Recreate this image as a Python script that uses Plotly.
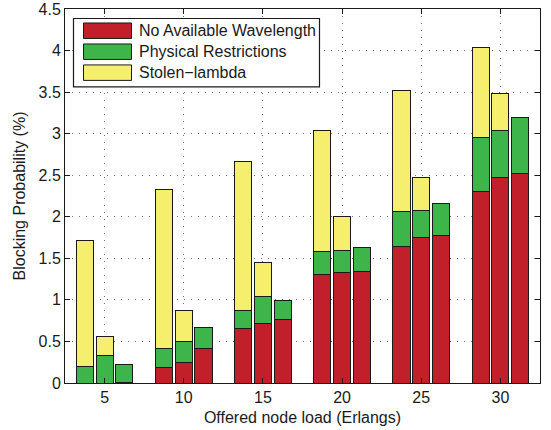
import plotly.graph_objects as go

loads = [5, 10, 15, 20, 25, 30]
offsets = [-1.25, 0.0, 1.25]
series_names = ["No Available Wavelength", "Physical Restrictions", "Stolen\u2212lambda"]
colors = ["#C1202A", "#3DB54A", "#F6EF6E"]

# values per bar within each group (bar1, bar2, bar3), by load
no_wavelength = [
    [0.00, 0.19, 0.66, 1.30, 1.64, 2.30],
    [0.00, 0.245, 0.72, 1.325, 1.745, 2.475],
    [0.01, 0.415, 0.76, 1.34, 1.77, 2.525],
]
physical = [
    [0.20, 0.225, 0.215, 0.285, 0.42, 0.655],
    [0.33, 0.26, 0.315, 0.275, 0.33, 0.56],
    [0.21, 0.25, 0.235, 0.29, 0.39, 0.67],
]
stolen = [
    [1.52, 1.91, 1.785, 1.455, 1.455, 1.085],
    [0.235, 0.37, 0.415, 0.40, 0.40, 0.445],
    [0.0, 0.0, 0.0, 0.0, 0.0, 0.0],
]

x_ticks = loads
y_ticks = [0, 0.5, 1, 1.5, 2, 2.5, 3, 3.5, 4, 4.5]
y_tick_labels = ["0", "0.5", "1", "1.5", "2", "2.5", "3", "3.5", "4", "4.5"]

W, H = 551, 430
ML, MR, MT, MB = 65, 11, 9, 46.5
PW, PH = W - ML - MR, H - MT - MB


def px(x):
    return (x - ML) / PW


def py(y):
    return (H - MB - y) / PH


fig = go.Figure()
for name, color, comp in zip(series_names, colors, [no_wavelength, physical, stolen]):
    xs, ys = [], []
    for b, off in enumerate(offsets):
        for i, L in enumerate(loads):
            xs.append(L + off)
            ys.append(comp[b][i])
    fig.add_trace(go.Bar(
        x=xs, y=ys, name=name, width=1.08, showlegend=False,
        marker=dict(color=color, line=dict(color="#1a1a1a", width=1)),
    ))

font_family = "Liberation Sans, Arial, Helvetica, sans-serif"

# custom legend (wide patches like the original)
shapes = [dict(type="rect", xref="paper", yref="paper",
               x0=px(73.5), x1=px(319.5), y0=py(87), y1=py(18.5),
               fillcolor="white", line=dict(color="#1a1a1a", width=1.2), layer="above")]
annotations = []
row_tops = [23, 44, 65]
for name, color, top in zip(series_names, colors, row_tops):
    shapes.append(dict(type="rect", xref="paper", yref="paper",
                       x0=px(83.5), x1=px(131.5), y0=py(top + 15.5), y1=py(top),
                       fillcolor=color, line=dict(color="#1a1a1a", width=1), layer="above"))
    annotations.append(dict(xref="paper", yref="paper", x=px(137), y=py(top + 8),
                            xanchor="left", yanchor="middle", showarrow=False,
                            text=name, font=dict(size=16, color="#1a1a1a")))

fig.update_layout(
    barmode="stack",
    width=W, height=H,
    margin=dict(l=ML, r=MR, t=MT, b=MB, autoexpand=False),
    paper_bgcolor="white", plot_bgcolor="white",
    font=dict(family=font_family, size=16, color="#1a1a1a"),
    showlegend=False,
    shapes=shapes,
    annotations=annotations,
    xaxis=dict(
        range=[2.5, 32.5], tickvals=x_ticks, ticktext=[str(v) for v in x_ticks],
        showline=True, linecolor="#1a1a1a", linewidth=1, mirror="ticks",
        ticks="inside", ticklen=5, tickcolor="#1a1a1a",
        showgrid=True, gridcolor="rgba(0,0,0,0.55)", griddash="1px,6px", gridwidth=1,
        zeroline=False, tickfont=dict(size=16), automargin=False,
        title=dict(text="Offered node load (Erlangs)", standoff=6, font=dict(size=16)),
    ),
    yaxis=dict(
        range=[0, 4.5], tickvals=y_ticks, ticktext=y_tick_labels,
        showline=True, linecolor="#1a1a1a", linewidth=1, mirror="ticks",
        ticks="inside", ticklen=5, tickcolor="#1a1a1a",
        showgrid=True, gridcolor="rgba(0,0,0,0.55)", griddash="1px,6px", gridwidth=1,
        zeroline=False, tickfont=dict(size=16), automargin=False,
        title=dict(text="Blocking Probability (%)", standoff=8, font=dict(size=16)),
    ),
)

fig.write_html("out.html")
